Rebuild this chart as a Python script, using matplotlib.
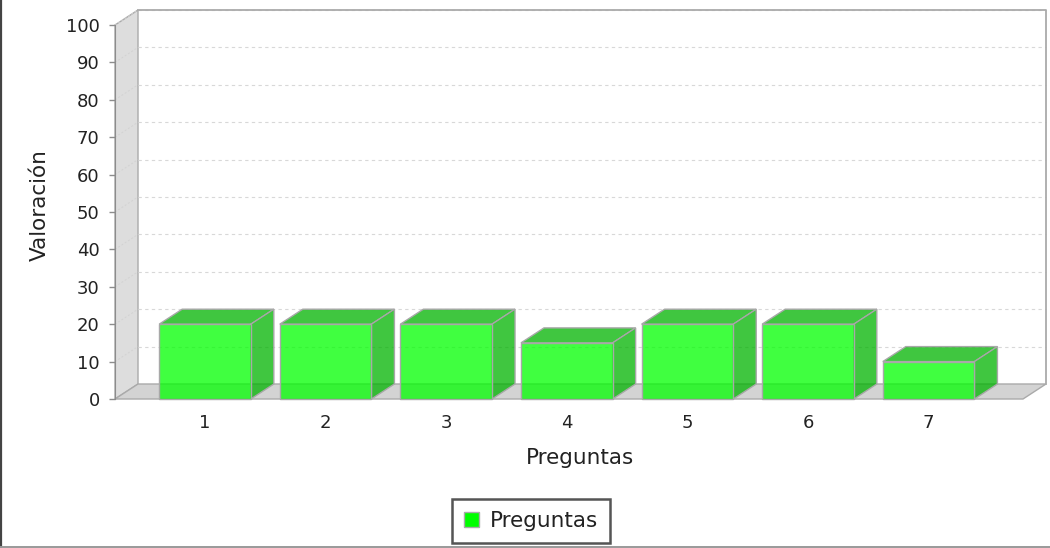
import matplotlib
matplotlib.use("Agg")
import matplotlib.pyplot as plt
from matplotlib.patches import Polygon, Rectangle, Patch
from matplotlib.lines import Line2D

# ---- data ----
categories = ["1", "2", "3", "4", "5", "6", "7"]
values = [20, 20, 20, 15, 20, 20, 10]
series_name = "Preguntas"
y_ticks = list(range(0, 101, 10))
x_label = "Preguntas"
y_label = "Valoración"

# ---- layout (pixels) ----
W, H = 1050, 548
L, R, B, T = 115, 1023, 399, 25      # front plane of the 3D plot
DX_PX, DY_PX = 23, 15                # depth offset of walls and bars
SPACING_PX = 120.6                   # distance between category centres
FIRST_PX = 90                        # first category centre from left edge
BAR_W = 0.76
TEXT = '#222222'

plt.rcParams['font.family'] = ['DejaVu Sans']

fig = plt.figure(figsize=(W / 100, H / 100), dpi=100)
fig.patch.set_facecolor('white')
ax = fig.add_axes([L / W, 1 - B / H, (R - L) / W, (B - T) / H])
ax.set_facecolor('none')

xs = list(range(len(categories)))
x0 = -FIRST_PX / SPACING_PX
x1 = x0 + (R - L) / SPACING_PX
ax.set_xlim(x0, x1)
ax.set_ylim(0, 100)
dx = DX_PX * (x1 - x0) / (R - L)
dy = DY_PX * 100 / (B - T)

wall_edge = '#AAAAAA'
# left wall and floor
ax.add_patch(Polygon([(x0, 0), (x0 + dx, dy), (x0 + dx, 100 + dy), (x0, 100)],
                     facecolor='#DDDDDD', edgecolor=wall_edge, lw=1,
                     clip_on=False, zorder=0.5))
ax.add_patch(Polygon([(x0, 0), (x1, 0), (x1 + dx, dy), (x0 + dx, dy)],
                     facecolor='#D3D3D3', edgecolor=wall_edge, lw=1,
                     clip_on=False, zorder=0.6))

# dashed gridlines on back wall and left wall
for v in y_ticks[1:]:
    ax.plot([x0 + dx, x1 + dx], [v + dy, v + dy], color='#D8D8D8', lw=0.8,
            ls=(0, (3, 3)), clip_on=False, zorder=1)
    ax.plot([x0, x0 + dx], [v, v + dy], color='#D2D2D2', lw=0.7,
            ls=(0, (2, 2)), clip_on=False, zorder=1)

# back wall outline
ax.plot([x0 + dx, x1 + dx, x1 + dx], [100 + dy, 100 + dy, dy],
        color=wall_edge, lw=1.3, clip_on=False, zorder=1.2)

# 3D bars
face = (0.0, 1.0, 0.0, 0.75)
shade = (0.0, 0.70, 0.0, 0.75)
bar_edge = '#A8A8A8'
for x, v in zip(xs, values):
    l, r = x - BAR_W / 2, x + BAR_W / 2
    ax.add_patch(Polygon([(l, v), (r, v), (r + dx, v + dy), (l + dx, v + dy)],
                         facecolor=shade, edgecolor=bar_edge, lw=1,
                         clip_on=False, zorder=3))
    ax.add_patch(Polygon([(r, 0), (r + dx, dy), (r + dx, v + dy), (r, v)],
                         facecolor=shade, edgecolor=bar_edge, lw=1,
                         clip_on=False, zorder=3))
    ax.add_patch(Rectangle((l, 0), BAR_W, v, facecolor=face,
                           edgecolor=bar_edge, lw=1, clip_on=False, zorder=3.5))

# axes
for side in ('top', 'right', 'bottom'):
    ax.spines[side].set_visible(False)
ax.spines['left'].set_color('#8C8C8C')
ax.spines['left'].set_zorder(4)
ax.set_yticks(y_ticks)
ax.tick_params(axis='y', length=4, width=1, color='#8C8C8C', pad=7,
               labelsize=13, labelcolor=TEXT)
ax.set_xticks(xs, categories)
ax.tick_params(axis='x', length=0, pad=11, labelsize=13, labelcolor=TEXT)

ax.set_xlabel(x_label, fontsize=15.5, color=TEXT)
ax.xaxis.set_label_coords((580.5 - L) / (R - L), (B - 458) / (B - T))
ax.xaxis.label.set_va('center')
ax.set_ylabel(y_label, fontsize=15.5, color=TEXT)
ax.yaxis.set_label_coords((40 - L) / (R - L), (B - 205) / (B - T))
ax.yaxis.label.set_va('center')

# legend
handle = Patch(facecolor='#00FF00', edgecolor='#AAAAAA')
leg = fig.legend([handle], [series_name], loc='center',
                 bbox_to_anchor=(531 / W, 1 - 521 / H), fontsize=15.5,
                 frameon=True, fancybox=False, edgecolor='#2A2A2A',
                 handlelength=0.7, handleheight=0.7, handletextpad=0.47,
                 borderpad=0.55, borderaxespad=0, labelcolor=TEXT)
leg.get_frame().set_linewidth(1.8)

# outer border (left and bottom)
fig.add_artist(Line2D([0.8 / W, 0.8 / W], [0, 1], transform=fig.transFigure,
                      color='#444444', lw=1.6))
fig.add_artist(Line2D([0, 1], [1 - 546.8 / H, 1 - 546.8 / H],
                      transform=fig.transFigure, color='#999999', lw=1.4))

fig.savefig('out.png', dpi=100)
